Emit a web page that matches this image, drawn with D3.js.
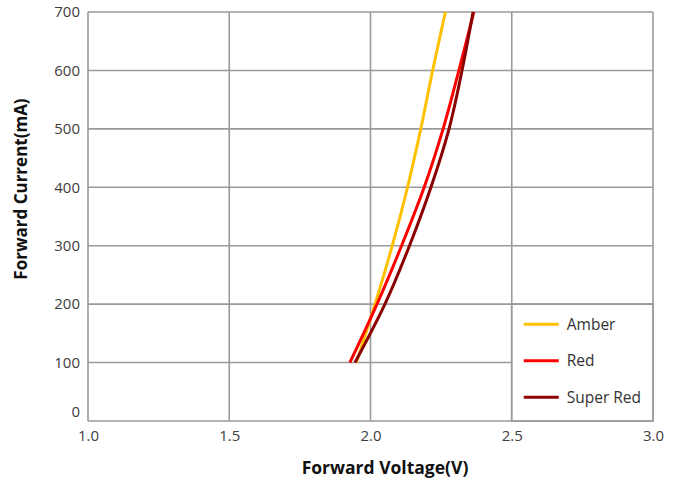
<!DOCTYPE html>
<html>
<head>
<meta charset="utf-8">
<script src="https://cdn.jsdelivr.net/npm/d3@7"></script>
<style>
  body { margin: 0; background: #fff; }
  svg { display: block; }
</style>
</head>
<body>
<svg id="chart"></svg>
<script>
const seriesNames = ["Amber", "Red", "Super Red"];
const seriesColors = ["#ffc000", "#ff0000", "#8b0000"];
// forward voltage (V) per current step
const currents = [100, 200, 300, 400, 500, 600, 700];
const amberVolts = [1.950, 2.016, 2.077, 2.131, 2.178, 2.220, 2.265];
const redVolts = [1.927, 2.023, 2.110, 2.190, 2.257, 2.313, 2.366];
const superRedVolts = [1.945, 2.051, 2.138, 2.214, 2.278, 2.324, 2.363];
const xTicks = [1.0, 1.5, 2.0, 2.5, 3.0];
const yTicks = [0, 100, 200, 300, 400, 500, 600, 700];

const series = [amberVolts, redVolts, superRedVolts].map((v, i) => ({
    name: seriesNames[i],
    color: seriesColors[i],
    points: v.map((volt, j) => ({ v: volt, i: currents[j] }))
}));

const margin = { top: 12, right: 31, bottom: 65, left: 88 },
    width = 684 - margin.left - margin.right,
    height = 486 - margin.top - margin.bottom;

const svg = d3.select("#chart")
    .attr("width", 684)
    .attr("height", 486);

const g = svg.append("g")
    .attr("transform", "translate(" + margin.left + "," + margin.top + ")");

const x = d3.scaleLinear().domain([1.0, 3.0]).range([0, width]);
const y = d3.scaleLinear().domain([0, 700]).range([height, 0]);

const gridColor = "#9a9a9a";
const font = "'Open Sans', sans-serif";

// grid
g.append("g")
    .selectAll("line")
    .data(yTicks)
    .enter().append("line")
    .attr("x1", 0).attr("x2", width)
    .attr("y1", d => y(d)).attr("y2", d => y(d))
    .attr("stroke", gridColor).attr("stroke-width", 1.6);

g.append("g")
    .selectAll("line")
    .data(xTicks)
    .enter().append("line")
    .attr("x1", d => x(d)).attr("x2", d => x(d))
    .attr("y1", 0).attr("y2", height)
    .attr("stroke", gridColor).attr("stroke-width", 1.6);

// axes (labels only)
const yAxis = g.append("g")
    .call(d3.axisLeft(y).tickValues(yTicks).tickSize(0).tickPadding(8));
yAxis.select(".domain").remove();
yAxis.selectAll("text")
    .attr("font-family", font)
    .attr("font-size", 15)
    .attr("fill", "#404040")
    .attr("dy", d => d === 0 ? "-0.3em" : "0.32em");

const xAxis = g.append("g")
    .attr("transform", "translate(0," + height + ")")
    .call(d3.axisBottom(x).tickValues(xTicks).tickFormat(d3.format(".1f")).tickSize(0).tickPadding(9));
xAxis.select(".domain").remove();
xAxis.selectAll("text")
    .attr("font-family", font)
    .attr("font-size", 15)
    .attr("fill", "#404040");

// curves
const line = d3.line()
    .x(d => x(d.v))
    .y(d => y(d.i))
    .curve(d3.curveMonotoneY);

g.selectAll("path.curve")
    .data(series)
    .enter().append("path")
    .attr("class", "curve")
    .attr("d", d => line(d.points))
    .attr("fill", "none")
    .attr("stroke", d => d.color)
    .attr("stroke-width", 3);

// legend box
const lx = x(2.5), ly = y(200);
const legend = g.append("g");
legend.append("rect")
    .attr("x", lx).attr("y", ly)
    .attr("width", x(3.0) - lx).attr("height", height - ly)
    .attr("fill", "#fff")
    .attr("stroke", gridColor).attr("stroke-width", 1.8);

const items = legend.selectAll("g")
    .data(series)
    .enter().append("g")
    .attr("transform", (d, i) => "translate(" + (lx + 12) + "," + (ly + 20 + i * 36.5) + ")");
items.append("line")
    .attr("x1", 0).attr("x2", 35)
    .attr("stroke", d => d.color).attr("stroke-width", 3);
items.append("text")
    .attr("x", 43).attr("dy", "0.35em")
    .attr("font-family", font)
    .attr("font-size", 15.5)
    .attr("fill", "#333")
    .text(d => d.name);

// titles
svg.append("text")
    .attr("x", 385).attr("y", 474)
    .attr("text-anchor", "middle")
    .attr("font-family", font)
    .attr("font-weight", "bold")
    .attr("font-size", 17.5)
    .attr("fill", "#111")
    .text("Forward Voltage(V)");

svg.append("text")
    .attr("transform", "translate(27,189) rotate(-90)")
    .attr("text-anchor", "middle")
    .attr("font-family", font)
    .attr("font-weight", "bold")
    .attr("font-size", 17)
    .attr("fill", "#111")
    .text("Forward Current(mA)");
</script>
</body>
</html>
